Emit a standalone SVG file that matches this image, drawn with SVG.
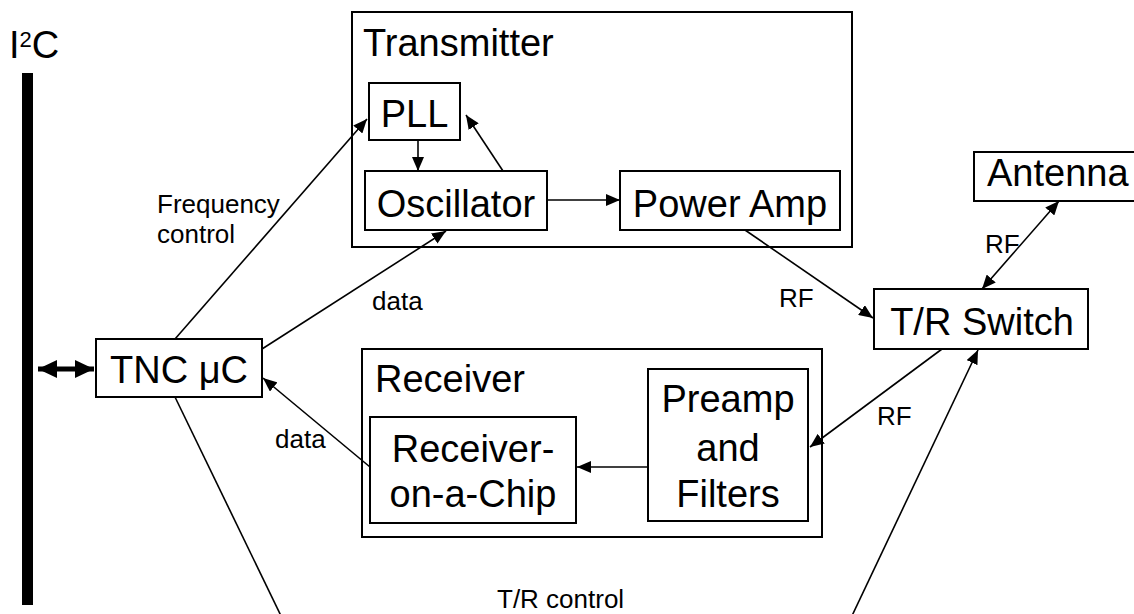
<svg xmlns="http://www.w3.org/2000/svg" width="1134" height="614" viewBox="0 0 1134 614">
<style>
.box{fill:#fff;stroke:#000;stroke-width:2}
.big{font-family:"Liberation Sans",Arial,sans-serif;font-size:38px;fill:#000}
.sm{font-family:"Liberation Sans",Arial,sans-serif;font-size:26px;fill:#000}
.c{text-anchor:middle}
.ln{stroke:#000;stroke-width:1.6;fill:none}
</style>
<defs>
<marker id="ah" markerUnits="userSpaceOnUse" markerWidth="16" markerHeight="12" refX="14" refY="6" orient="auto-start-reverse">
<path d="M0,0 L14,6 L0,12 Z" fill="#000"/>
</marker>
<marker id="bh" markerUnits="userSpaceOnUse" markerWidth="20" markerHeight="18" refX="19" refY="9" orient="auto-start-reverse">
<path d="M0,0 L19,9 L0,18 Z" fill="#000"/>
</marker>
</defs>
<rect width="1134" height="614" fill="#fff"/>
<g id="i2c">
<rect x="22" y="73" width="11" height="532" fill="#000"/>
<text class="big" x="9" y="58" font-size="36">I<tspan font-size="22" dy="-11">2</tspan><tspan dy="11">C</tspan></text>
</g>
<g id="transmitter">
<rect class="box" x="352" y="12" width="500" height="235"/>
<text class="big" x="363" y="56">Transmitter</text>
</g>
<g id="pll">
<rect class="box" x="369" y="83" width="91" height="57"/>
<text class="big c" x="414.5" y="127">PLL</text>
</g>
<g id="oscillator">
<rect class="box" x="365" y="171" width="182" height="59"/>
<text class="big c" x="456" y="217">Oscillator</text>
</g>
<g id="poweramp">
<rect class="box" x="620" y="171" width="220" height="59"/>
<text class="big c" x="730" y="217">Power Amp</text>
</g>
<g id="antenna">
<rect class="box" x="974" y="152" width="175" height="49"/>
<text class="big" x="987" y="186">Antenna</text>
</g>
<g id="trswitch">
<rect class="box" x="874" y="289" width="214" height="60"/>
<text class="big c" x="982" y="335">T/R Switch</text>
</g>
<g id="tnc">
<rect class="box" x="96" y="339" width="166" height="58"/>
<text class="big c" x="179" y="383">TNC μC</text>
</g>
<g id="receiver">
<rect class="box" x="362" y="349" width="460" height="188"/>
<text class="big" x="375" y="392">Receiver</text>
</g>
<g id="rxchip">
<rect class="box" x="370" y="417" width="206" height="106"/>
<text class="big c" x="473" y="462">Receiver-</text>
<text class="big c" x="473" y="507">on-a-Chip</text>
</g>
<g id="preamp">
<rect class="box" x="648" y="369" width="160" height="152"/>
<text class="big c" x="728" y="412">Preamp</text>
<text class="big c" x="728" y="461">and</text>
<text class="big c" x="728" y="507">Filters</text>
</g>
<g id="connectors">
<line x1="38" y1="369" x2="94" y2="369" stroke="#000" stroke-width="5" marker-start="url(#bh)" marker-end="url(#bh)"/>
<line class="ln" x1="175" y1="339" x2="367" y2="119" marker-end="url(#ah)"/>
<line class="ln" x1="262" y1="349" x2="446" y2="231" marker-end="url(#ah)"/>
<line class="ln" x1="418" y1="140" x2="418" y2="171" marker-end="url(#ah)"/>
<line class="ln" x1="503" y1="171" x2="466" y2="115" marker-end="url(#ah)"/>
<line class="ln" x1="547" y1="200" x2="620" y2="200" marker-end="url(#ah)"/>
<line class="ln" x1="745" y1="230" x2="873" y2="318" marker-end="url(#ah)"/>
<line class="ln" x1="982" y1="289" x2="1059" y2="201" marker-start="url(#ah)" marker-end="url(#ah)"/>
<line class="ln" x1="942" y1="349" x2="810" y2="447" marker-end="url(#ah)"/>
<line class="ln" x1="648" y1="467" x2="577" y2="467" marker-end="url(#ah)"/>
<line class="ln" x1="370" y1="467" x2="263" y2="378" marker-end="url(#ah)"/>
<line class="ln" x1="175" y1="397" x2="283" y2="620"/>
<line class="ln" x1="850" y1="620" x2="978" y2="350" marker-end="url(#ah)"/>
<text class="sm" x="157" y="213">Frequency</text>
<text class="sm" x="157" y="243">control</text>
<text class="sm" x="372" y="310">data</text>
<text class="sm" x="275" y="448">data</text>
<text class="sm" x="779" y="307">RF</text>
<text class="sm" x="877" y="425">RF</text>
<text class="sm" x="985" y="253">RF</text>
<text class="sm" x="497" y="608">T/R control</text>
</g>
</svg>
